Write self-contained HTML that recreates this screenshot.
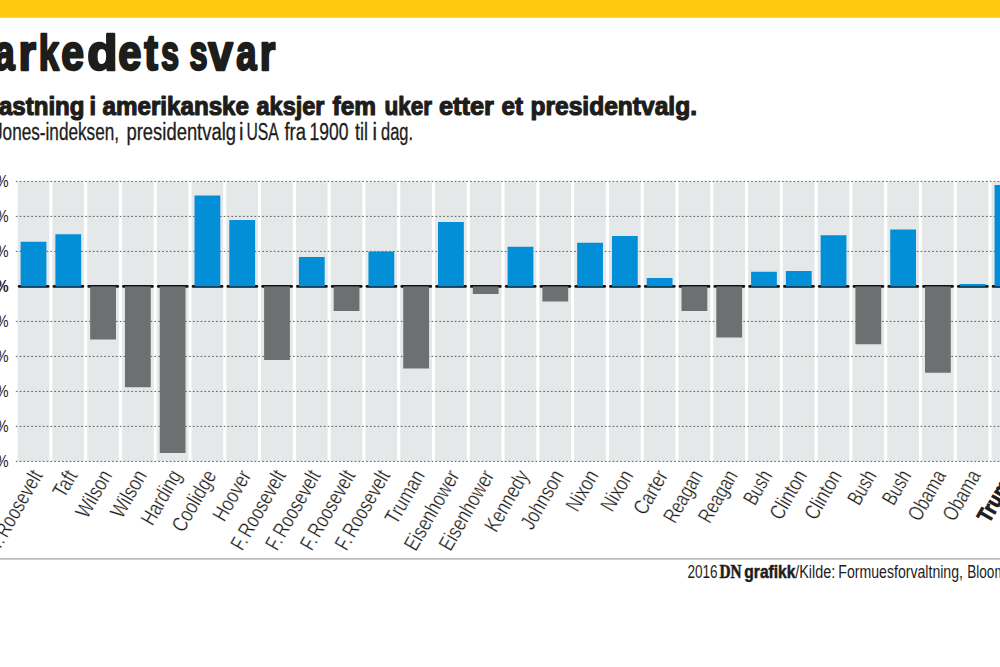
<!DOCTYPE html>
<html lang="no"><head><meta charset="utf-8"><title>Markedets svar</title>
<style>
html,body{margin:0;padding:0;background:#fff;}
body{width:1000px;height:667px;overflow:hidden;font-family:"Liberation Sans",sans-serif;}
svg{display:block;}
text{font-family:"Liberation Sans",sans-serif;fill:#1d1d1b;}
.b{font-weight:bold;}
.dn{font-family:"Liberation Serif",serif;font-weight:bold;}
.lab{font-size:21.5px;fill:#1d1d1b;stroke:#fff;stroke-width:0.28px;}
.lab.b{stroke:#1d1d1b;stroke-width:0.9px;}
.pct{font-size:17.3px;fill:#222;}
</style></head><body>
<svg width="1000" height="667" viewBox="0 0 1000 667">
<rect x="0" y="0" width="1000" height="667" fill="#fff"/>
<rect x="0" y="0" width="1000" height="17.8" fill="#ffc90e"/>
<text y="70.3" font-size="49.5" class="b" stroke="#1d1d1b" stroke-width="2.4" stroke-linejoin="round"><tspan x="-5.84" textLength="20.45" lengthAdjust="spacingAndGlyphs">a</tspan><tspan x="18.40" textLength="17.43" lengthAdjust="spacingAndGlyphs">r</tspan><tspan x="38.70" textLength="20.28" lengthAdjust="spacingAndGlyphs">k</tspan><tspan x="61.36" textLength="22.72" lengthAdjust="spacingAndGlyphs">e</tspan><tspan x="87.22" textLength="30.29" lengthAdjust="spacingAndGlyphs">d</tspan><tspan x="118.16" textLength="23.12" lengthAdjust="spacingAndGlyphs">e</tspan><tspan x="144.18" textLength="13.65" lengthAdjust="spacingAndGlyphs">t</tspan><tspan x="161.01" textLength="18.08" lengthAdjust="spacingAndGlyphs">s</tspan> <tspan x="189.41" textLength="18.08" lengthAdjust="spacingAndGlyphs">s</tspan><tspan x="208.17" textLength="24.59" lengthAdjust="spacingAndGlyphs">v</tspan><tspan x="236.15" textLength="20.26" lengthAdjust="spacingAndGlyphs">a</tspan><tspan x="259.87" textLength="15.53" lengthAdjust="spacingAndGlyphs">r</tspan></text>
<text y="115" font-size="26.7" class="b" stroke="#1d1d1b" stroke-width="1.2" stroke-linejoin="round"><tspan x="-1.0" textLength="85.5" lengthAdjust="spacingAndGlyphs">astning</tspan> <tspan x="89.5" textLength="6.5" lengthAdjust="spacingAndGlyphs">i</tspan> <tspan x="102.5" textLength="146.5" lengthAdjust="spacingAndGlyphs">amerikanske</tspan> <tspan x="256.5" textLength="68.0" lengthAdjust="spacingAndGlyphs">aksjer</tspan> <tspan x="332.5" textLength="43.5" lengthAdjust="spacingAndGlyphs">fem</tspan> <tspan x="384.5" textLength="47.5" lengthAdjust="spacingAndGlyphs">uker</tspan> <tspan x="439.0" textLength="55.0" lengthAdjust="spacingAndGlyphs">etter</tspan> <tspan x="501.5" textLength="21.5" lengthAdjust="spacingAndGlyphs">et</tspan> <tspan x="530.5" textLength="166.5" lengthAdjust="spacingAndGlyphs">presidentvalg.</tspan></text>
<text y="139.5" font-size="23" stroke="#1d1d1b" stroke-width="0.3" stroke-linejoin="round"><tspan x="-6.0" textLength="125.0" lengthAdjust="spacingAndGlyphs">Jones-indeksen,</tspan> <tspan x="126.5" textLength="109.5" lengthAdjust="spacingAndGlyphs">presidentvalg</tspan> <tspan x="239.0" textLength="4.5" lengthAdjust="spacingAndGlyphs">i</tspan> <tspan x="246.5" textLength="31.5" lengthAdjust="spacingAndGlyphs">USA</tspan> <tspan x="284.5" textLength="21.5" lengthAdjust="spacingAndGlyphs">fra</tspan> <tspan x="309.5" textLength="39.0" lengthAdjust="spacingAndGlyphs">1900</tspan> <tspan x="355.0" textLength="13.0" lengthAdjust="spacingAndGlyphs">til</tspan> <tspan x="372.5" textLength="4.5" lengthAdjust="spacingAndGlyphs">i</tspan> <tspan x="381.0" textLength="32.0" lengthAdjust="spacingAndGlyphs">dag.</tspan></text>
<g>
<rect x="17.60" y="181.40" width="31.7" height="280.00" fill="#e5e8e8"/>
<rect x="52.38" y="181.40" width="31.7" height="280.00" fill="#e5e8e8"/>
<rect x="87.17" y="181.40" width="31.7" height="280.00" fill="#e5e8e8"/>
<rect x="121.95" y="181.40" width="31.7" height="280.00" fill="#e5e8e8"/>
<rect x="156.74" y="181.40" width="31.7" height="280.00" fill="#e5e8e8"/>
<rect x="191.52" y="181.40" width="31.7" height="280.00" fill="#e5e8e8"/>
<rect x="226.31" y="181.40" width="31.7" height="280.00" fill="#e5e8e8"/>
<rect x="261.09" y="181.40" width="31.7" height="280.00" fill="#e5e8e8"/>
<rect x="295.88" y="181.40" width="31.7" height="280.00" fill="#e5e8e8"/>
<rect x="330.66" y="181.40" width="31.7" height="280.00" fill="#e5e8e8"/>
<rect x="365.45" y="181.40" width="31.7" height="280.00" fill="#e5e8e8"/>
<rect x="400.24" y="181.40" width="31.7" height="280.00" fill="#e5e8e8"/>
<rect x="435.02" y="181.40" width="31.7" height="280.00" fill="#e5e8e8"/>
<rect x="469.80" y="181.40" width="31.7" height="280.00" fill="#e5e8e8"/>
<rect x="504.59" y="181.40" width="31.7" height="280.00" fill="#e5e8e8"/>
<rect x="539.38" y="181.40" width="31.7" height="280.00" fill="#e5e8e8"/>
<rect x="574.16" y="181.40" width="31.7" height="280.00" fill="#e5e8e8"/>
<rect x="608.94" y="181.40" width="31.7" height="280.00" fill="#e5e8e8"/>
<rect x="643.73" y="181.40" width="31.7" height="280.00" fill="#e5e8e8"/>
<rect x="678.51" y="181.40" width="31.7" height="280.00" fill="#e5e8e8"/>
<rect x="713.30" y="181.40" width="31.7" height="280.00" fill="#e5e8e8"/>
<rect x="748.08" y="181.40" width="31.7" height="280.00" fill="#e5e8e8"/>
<rect x="782.87" y="181.40" width="31.7" height="280.00" fill="#e5e8e8"/>
<rect x="817.65" y="181.40" width="31.7" height="280.00" fill="#e5e8e8"/>
<rect x="852.44" y="181.40" width="31.7" height="280.00" fill="#e5e8e8"/>
<rect x="887.22" y="181.40" width="31.7" height="280.00" fill="#e5e8e8"/>
<rect x="922.01" y="181.40" width="31.7" height="280.00" fill="#e5e8e8"/>
<rect x="956.79" y="181.40" width="31.7" height="280.00" fill="#e5e8e8"/>
<rect x="991.58" y="181.40" width="31.7" height="280.00" fill="#e5e8e8"/>
</g>
<g stroke="#444" stroke-width="0.85" stroke-dasharray="1.7 2.15" fill="none">
<line x1="15.8" y1="181.40" x2="1000" y2="181.40"/>
<line x1="15.8" y1="216.40" x2="1000" y2="216.40"/>
<line x1="15.8" y1="251.40" x2="1000" y2="251.40"/>
<line x1="15.8" y1="321.40" x2="1000" y2="321.40"/>
<line x1="15.8" y1="356.40" x2="1000" y2="356.40"/>
<line x1="15.8" y1="391.40" x2="1000" y2="391.40"/>
<line x1="15.8" y1="426.40" x2="1000" y2="426.40"/>
<line x1="15.8" y1="461.40" x2="1000" y2="461.40"/>
</g>
<g stroke="#111" stroke-width="2.6" stroke-linecap="round">
<line x1="19.10" y1="286.40" x2="48.20" y2="286.40"/>
<line x1="53.88" y1="286.40" x2="82.98" y2="286.40"/>
<line x1="88.67" y1="286.40" x2="117.77" y2="286.40"/>
<line x1="123.45" y1="286.40" x2="152.55" y2="286.40"/>
<line x1="158.24" y1="286.40" x2="187.34" y2="286.40"/>
<line x1="193.02" y1="286.40" x2="222.12" y2="286.40"/>
<line x1="227.81" y1="286.40" x2="256.91" y2="286.40"/>
<line x1="262.59" y1="286.40" x2="291.69" y2="286.40"/>
<line x1="297.38" y1="286.40" x2="326.48" y2="286.40"/>
<line x1="332.16" y1="286.40" x2="361.26" y2="286.40"/>
<line x1="366.95" y1="286.40" x2="396.05" y2="286.40"/>
<line x1="401.74" y1="286.40" x2="430.83" y2="286.40"/>
<line x1="436.52" y1="286.40" x2="465.62" y2="286.40"/>
<line x1="471.30" y1="286.40" x2="500.40" y2="286.40"/>
<line x1="506.09" y1="286.40" x2="535.19" y2="286.40"/>
<line x1="540.88" y1="286.40" x2="569.98" y2="286.40"/>
<line x1="575.66" y1="286.40" x2="604.76" y2="286.40"/>
<line x1="610.44" y1="286.40" x2="639.54" y2="286.40"/>
<line x1="645.23" y1="286.40" x2="674.33" y2="286.40"/>
<line x1="680.01" y1="286.40" x2="709.12" y2="286.40"/>
<line x1="714.80" y1="286.40" x2="743.90" y2="286.40"/>
<line x1="749.58" y1="286.40" x2="778.68" y2="286.40"/>
<line x1="784.37" y1="286.40" x2="813.47" y2="286.40"/>
<line x1="819.15" y1="286.40" x2="848.25" y2="286.40"/>
<line x1="853.94" y1="286.40" x2="883.04" y2="286.40"/>
<line x1="888.72" y1="286.40" x2="917.82" y2="286.40"/>
<line x1="923.51" y1="286.40" x2="952.61" y2="286.40"/>
<line x1="958.29" y1="286.40" x2="987.39" y2="286.40"/>
<line x1="993.08" y1="286.40" x2="1022.18" y2="286.40"/>
</g>
<g>
<rect x="20.60" y="241.75" width="25.8" height="44.65" fill="#038fd8"/>
<rect x="55.38" y="234.25" width="25.8" height="52.15" fill="#038fd8"/>
<rect x="90.17" y="286.40" width="25.8" height="53.10" fill="#6e6f71"/>
<rect x="124.95" y="286.40" width="25.8" height="100.85" fill="#6e6f71"/>
<rect x="159.74" y="286.40" width="25.8" height="166.60" fill="#6e6f71"/>
<rect x="194.52" y="195.50" width="25.8" height="90.90" fill="#038fd8"/>
<rect x="229.31" y="220.00" width="25.8" height="66.40" fill="#038fd8"/>
<rect x="264.09" y="286.40" width="25.8" height="73.60" fill="#6e6f71"/>
<rect x="298.88" y="257.00" width="25.8" height="29.40" fill="#038fd8"/>
<rect x="333.66" y="286.40" width="25.8" height="24.60" fill="#6e6f71"/>
<rect x="368.45" y="251.50" width="25.8" height="34.90" fill="#038fd8"/>
<rect x="403.24" y="286.40" width="25.8" height="82.10" fill="#6e6f71"/>
<rect x="438.02" y="222.00" width="25.8" height="64.40" fill="#038fd8"/>
<rect x="472.80" y="286.40" width="25.8" height="7.60" fill="#6e6f71"/>
<rect x="507.59" y="246.75" width="25.8" height="39.65" fill="#038fd8"/>
<rect x="542.38" y="286.40" width="25.8" height="15.10" fill="#6e6f71"/>
<rect x="577.16" y="242.75" width="25.8" height="43.65" fill="#038fd8"/>
<rect x="611.94" y="236.00" width="25.8" height="50.40" fill="#038fd8"/>
<rect x="646.73" y="278.00" width="25.8" height="8.40" fill="#038fd8"/>
<rect x="681.51" y="286.40" width="25.8" height="24.60" fill="#6e6f71"/>
<rect x="716.30" y="286.40" width="25.8" height="51.10" fill="#6e6f71"/>
<rect x="751.08" y="271.75" width="25.8" height="14.65" fill="#038fd8"/>
<rect x="785.87" y="271.00" width="25.8" height="15.40" fill="#038fd8"/>
<rect x="820.65" y="235.25" width="25.8" height="51.15" fill="#038fd8"/>
<rect x="855.44" y="286.40" width="25.8" height="57.85" fill="#6e6f71"/>
<rect x="890.22" y="229.50" width="25.8" height="56.90" fill="#038fd8"/>
<rect x="925.01" y="286.40" width="25.8" height="86.35" fill="#6e6f71"/>
<rect x="959.79" y="284.00" width="25.8" height="2.40" fill="#038fd8"/>
<rect x="994.58" y="185.00" width="25.8" height="101.40" fill="#038fd8"/>
</g>
<text x="8.5" y="186.80" text-anchor="end" class="pct" transform="translate(8.5 0) scale(0.8 1) translate(-8.5 0)">9%</text>
<text x="8.5" y="221.80" text-anchor="end" class="pct" transform="translate(8.5 0) scale(0.8 1) translate(-8.5 0)">6%</text>
<text x="8.5" y="256.80" text-anchor="end" class="pct" transform="translate(8.5 0) scale(0.8 1) translate(-8.5 0)">3%</text>
<text x="8.5" y="291.80" text-anchor="end" class="pct b" transform="translate(8.5 0) scale(0.8 1) translate(-8.5 0)">0%</text>
<text x="8.5" y="326.80" text-anchor="end" class="pct" transform="translate(8.5 0) scale(0.8 1) translate(-8.5 0)">-3%</text>
<text x="8.5" y="361.80" text-anchor="end" class="pct" transform="translate(8.5 0) scale(0.8 1) translate(-8.5 0)">-6%</text>
<text x="8.5" y="396.80" text-anchor="end" class="pct" transform="translate(8.5 0) scale(0.8 1) translate(-8.5 0)">-9%</text>
<text x="8.5" y="431.80" text-anchor="end" class="pct" transform="translate(8.5 0) scale(0.8 1) translate(-8.5 0)">-12%</text>
<text x="8.5" y="466.80" text-anchor="end" class="pct" transform="translate(8.5 0) scale(0.8 1) translate(-8.5 0)">-15%</text>
<text class="lab" text-anchor="end" word-spacing="-3" transform="translate(43.25 475.40) rotate(-60) scale(0.7663 1)">T. Roosevelt</text>
<text class="lab" text-anchor="end" transform="translate(77.99 475.40) rotate(-60) scale(0.7900 1)">Taft</text>
<text class="lab" text-anchor="end" transform="translate(112.74 475.40) rotate(-60) scale(0.7900 1)">Wilson</text>
<text class="lab" text-anchor="end" transform="translate(147.48 475.40) rotate(-60) scale(0.7900 1)">Wilson</text>
<text class="lab" text-anchor="end" transform="translate(182.23 475.40) rotate(-60) scale(0.7900 1)">Harding</text>
<text class="lab" text-anchor="end" transform="translate(216.97 475.40) rotate(-60) scale(0.7900 1)">Coolidge</text>
<text class="lab" text-anchor="end" transform="translate(251.72 475.40) rotate(-60) scale(0.7900 1)">Hoover</text>
<text class="lab" text-anchor="end" word-spacing="-3" transform="translate(286.47 475.40) rotate(-60) scale(0.7663 1)">F. Roosevelt</text>
<text class="lab" text-anchor="end" word-spacing="-3" transform="translate(321.21 475.40) rotate(-60) scale(0.7663 1)">F. Roosevelt</text>
<text class="lab" text-anchor="end" word-spacing="-3" transform="translate(355.96 475.40) rotate(-60) scale(0.7663 1)">F. Roosevelt</text>
<text class="lab" text-anchor="end" word-spacing="-3" transform="translate(390.70 475.40) rotate(-60) scale(0.7663 1)">F. Roosevelt</text>
<text class="lab" text-anchor="end" transform="translate(425.45 475.40) rotate(-60) scale(0.7900 1)">Truman</text>
<text class="lab" text-anchor="end" transform="translate(460.19 475.40) rotate(-60) scale(0.7900 1)">Eisenhower</text>
<text class="lab" text-anchor="end" transform="translate(494.94 475.40) rotate(-60) scale(0.7900 1)">Eisenhower</text>
<text class="lab" text-anchor="end" transform="translate(529.68 475.40) rotate(-60) scale(0.7900 1)">Kennedy</text>
<text class="lab" text-anchor="end" transform="translate(564.42 475.40) rotate(-60) scale(0.7900 1)">Johnson</text>
<text class="lab" text-anchor="end" transform="translate(599.17 475.40) rotate(-60) scale(0.7900 1)">Nixon</text>
<text class="lab" text-anchor="end" transform="translate(633.91 475.40) rotate(-60) scale(0.7900 1)">Nixon</text>
<text class="lab" text-anchor="end" transform="translate(668.66 475.40) rotate(-60) scale(0.7900 1)">Carter</text>
<text class="lab" text-anchor="end" transform="translate(703.40 475.40) rotate(-60) scale(0.7544 1)">Reagan</text>
<text class="lab" text-anchor="end" transform="translate(738.15 475.40) rotate(-60) scale(0.7544 1)">Reagan</text>
<text class="lab" text-anchor="end" transform="translate(772.89 475.40) rotate(-60) scale(0.7347 1)">Bush</text>
<text class="lab" text-anchor="end" transform="translate(807.64 475.40) rotate(-60) scale(0.7900 1)">Clinton</text>
<text class="lab" text-anchor="end" transform="translate(842.38 475.40) rotate(-60) scale(0.7900 1)">Clinton</text>
<text class="lab" text-anchor="end" transform="translate(877.13 475.40) rotate(-60) scale(0.7347 1)">Bush</text>
<text class="lab" text-anchor="end" transform="translate(911.87 475.40) rotate(-60) scale(0.7347 1)">Bush</text>
<text class="lab" text-anchor="end" transform="translate(946.62 475.40) rotate(-60) scale(0.7702 1)">Obama</text>
<text class="lab" text-anchor="end" transform="translate(981.36 475.40) rotate(-60) scale(0.7702 1)">Obama</text>
<text class="lab b" text-anchor="end" stroke="#1d1d1b" stroke-width="0.9" transform="translate(1017.21 475.40) rotate(-60) scale(0.855 1)">Trump</text>
<rect x="0" y="558.25" width="1000" height="1.3" fill="#a9a9a9"/>
<text y="577.5" font-size="17.5"><tspan x="687.5" font-size="17.5" textLength="30.1" lengthAdjust="spacingAndGlyphs">2016</tspan> <tspan x="719.6" font-size="19" textLength="22.0" lengthAdjust="spacingAndGlyphs" class="dn" stroke="#1d1d1b" stroke-width="0.6">DN</tspan> <tspan x="744.3" font-size="17.5" textLength="51.1" lengthAdjust="spacingAndGlyphs" class="b" stroke="#1d1d1b" stroke-width="0.5">grafikk</tspan><tspan x="795.2" font-size="17.5" textLength="40.1" lengthAdjust="spacingAndGlyphs">/Kilde:</tspan> <tspan x="838.3" font-size="17.5" textLength="124.7" lengthAdjust="spacingAndGlyphs">Formuesforvaltning,</tspan> <tspan x="967.2" font-size="17.5" textLength="65.8" lengthAdjust="spacingAndGlyphs">Bloomberg</tspan></text>
</svg>
</body></html>
